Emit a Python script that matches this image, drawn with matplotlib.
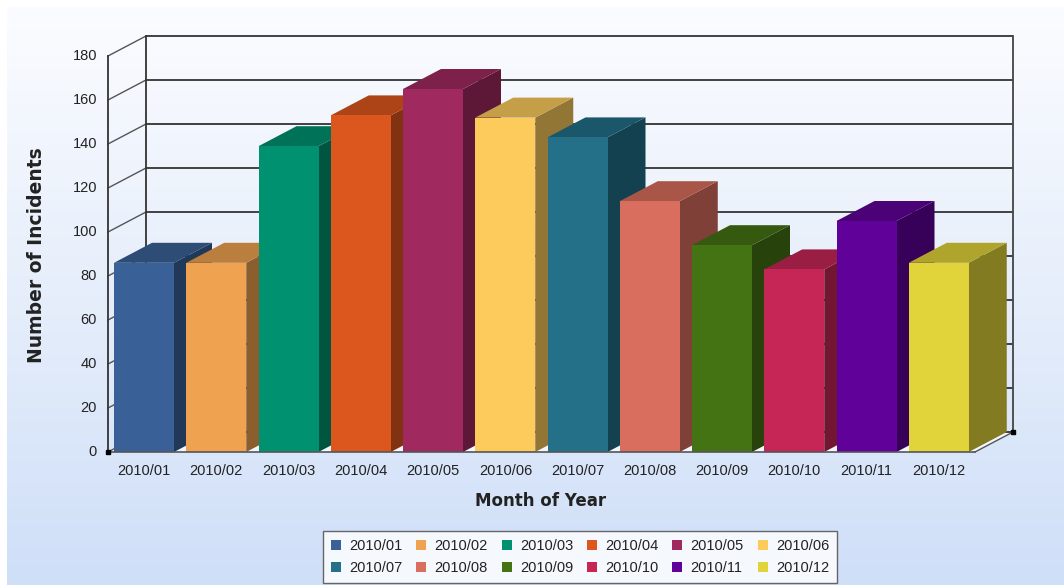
import numpy as np
import matplotlib
matplotlib.use("Agg")
import matplotlib.pyplot as plt
from matplotlib.colors import to_rgb, LinearSegmentedColormap
from matplotlib.patches import Polygon, Rectangle, Patch

# ---- data -------------------------------------------------------------
months = ["2010/01", "2010/02", "2010/03", "2010/04", "2010/05", "2010/06",
          "2010/07", "2010/08", "2010/09", "2010/10", "2010/11", "2010/12"]
incidents = [86, 86, 139, 153, 165, 152, 143, 114, 94, 83, 105, 86]
bar_colors = ["#3a6197", "#efa250", "#009270", "#dc571e", "#a0295f", "#fccb5c",
              "#237088", "#d96e5e", "#447313", "#c62656", "#600299", "#e0d43a"]
y_ticks = [0, 20, 40, 60, 80, 100, 120, 140, 160, 180]
x_title = "Month of Year"
y_title = "Number of Incidents"

# ---- geometry of the pseudo-3D box ------------------------------------
W, H = 1064, 585
n = len(months)
ymax = y_ticks[-1]
DX = 38 / 72.25          # depth offset in category units
DY = 20 / 2.2            # depth offset in value units
PAD = 6 / 72.25          # gap between slot edge and bar
BW = 60 / 72.25          # bar width

TICK_FONT = ["Liberation Sans Narrow", "Liberation Sans", "DejaVu Sans"]

fig = plt.figure(figsize=(W / 100, H / 100), dpi=100)
fig.patch.set_facecolor("white")

# background gradient
bg = fig.add_axes([7 / W, 0, 1 - 7 / W, 1 - 7 / H])
grad = np.linspace(0, 1, 256)[:, None]
cmap = LinearSegmentedColormap.from_list("bg", ["#fbfcff", "#e6eefb", "#cfdff8"])
bg.imshow(grad, aspect="auto", cmap=cmap, extent=[0, 1, 0, 1], origin="upper")
bg.axis("off")

ax = fig.add_axes([108 / W, (H - 452) / H, (1013 - 108) / W, (452 - 36) / H])
ax.set_xlim(0, n + DX)
ax.set_ylim(0, ymax + DY)
ax.axis("off")
ax.patch.set_alpha(0)

# floor
ax.add_patch(Polygon([(0, 0), (n, 0), (n + DX, DY), (DX, DY)], closed=True,
                     fc="#f3f6fc", ec="none", zorder=1, clip_on=False))

# back wall gridlines and side wall diagonals
for v in y_ticks:
    ax.plot([DX, n + DX], [v + DY, v + DY], color="#333333", lw=1.3,
            zorder=2, clip_on=False, solid_capstyle="butt")
    ax.plot([0, DX], [v, v + DY], color="#555555", lw=1.0,
            zorder=2, clip_on=False)

# wall edges
ax.plot([DX, DX], [DY, ymax + DY], color="#333333", lw=1.3, zorder=2, clip_on=False)
ax.plot([n + DX, n + DX], [DY, ymax + DY], color="#444444", lw=1.3, zorder=2, clip_on=False)
ax.plot([0, 0], [0, ymax], color="#333333", lw=1.3, zorder=2, clip_on=False)
ax.plot([n, n + DX], [0, DY], color="#555555", lw=1.0, zorder=2, clip_on=False)


def shade(color, f):
    r, g, b = to_rgb(color)
    return (r * f, g * f, b * f)


# bars, drawn left to right so each one overlaps its left neighbour's side
for i, (v, c) in enumerate(zip(incidents, bar_colors)):
    z = 3 + i * 0.01
    x0 = i + PAD
    x1 = x0 + BW
    ax.add_patch(Polygon([(x1, 0), (x1 + DX, DY), (x1 + DX, v + DY), (x1, v)],
                         closed=True, fc=shade(c, 0.58), ec="none", zorder=z, clip_on=False))
    ax.add_patch(Polygon([(x0, v), (x1, v), (x1 + DX, v + DY), (x0 + DX, v + DY)],
                         closed=True, fc=shade(c, 0.78), ec="none", zorder=z, clip_on=False))
    ax.add_patch(Rectangle((x0, 0), BW, v, fc=c, ec="none", zorder=z, clip_on=False))

# front floor edge and corner marks
ax.plot([0, n], [0, 0], color="#555555", lw=1.2, zorder=5, clip_on=False)
ax.plot([0, n + DX], [0, DY], ls="none", marker="s", ms=3.5, color="black",
        zorder=6, clip_on=False)

# tick labels
for v in y_ticks:
    ax.annotate(str(v), (0, v), xytext=(-11, 0), textcoords="offset pixels",
                ha="right", va="center", fontsize=10.5, family=TICK_FONT,
                color="#222222", annotation_clip=False)
for i, m in enumerate(months):
    ax.annotate(m, (i + 0.5, 0), xytext=(0, -19), textcoords="offset pixels",
                ha="center", va="center", fontsize=10.5, family=TICK_FONT,
                color="#222222", annotation_clip=False)

# axis titles
fig.text(541 / W, 1 - 501 / H, x_title, ha="center", va="center",
         fontsize=12, fontweight="bold", family="DejaVu Sans", color="#222222")
fig.text(37 / W, 1 - 255 / H, y_title, ha="center", va="center", rotation=90,
         fontsize=13.5, fontweight="bold", family="DejaVu Sans", color="#222222")

# legend, filled row by row
handles = [Patch(fc=c, ec="none") for c in bar_colors]
cols = 6
rows = int(np.ceil(n / cols))
order = [r * cols + c for c in range(cols) for r in range(rows)]
leg = fig.legend([handles[k] for k in order], [months[k] for k in order],
                 ncol=cols, loc="center", bbox_to_anchor=(580 / W, 1 - 557 / H),
                 frameon=True, fancybox=False, edgecolor="#444444",
                 fontsize=10.5, handlelength=0.7, handleheight=0.7,
                 handletextpad=0.55, columnspacing=0.95, borderpad=0.55,
                 labelspacing=0.55, borderaxespad=0)
leg.get_frame().set_linewidth(1.0)
leg.get_frame().set_facecolor("white")
for t in leg.get_texts():
    t.set_family(TICK_FONT)
    t.set_color("#222222")

fig.savefig("out.png", dpi=100)
